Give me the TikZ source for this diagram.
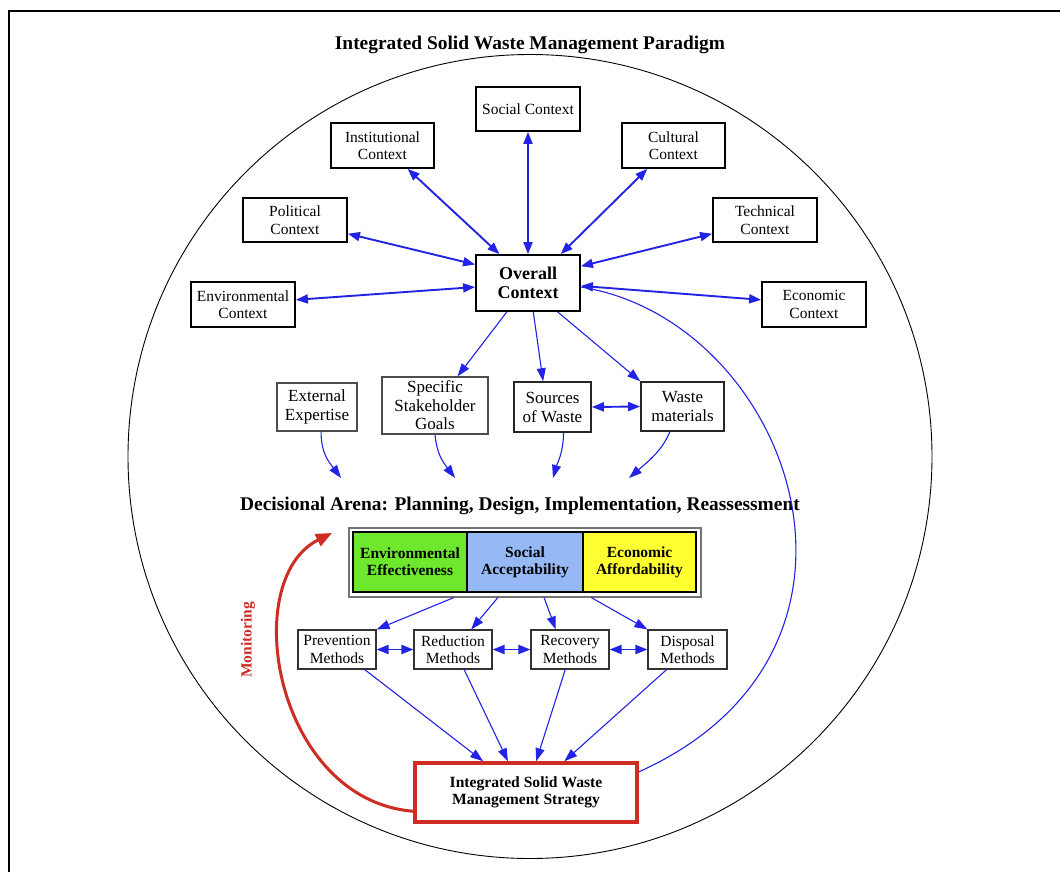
\documentclass[tikz,border=0pt]{standalone}
\usepackage{fontspec}
\setmainfont{Liberation Serif}
\usetikzlibrary{arrows.meta,calc}
\definecolor{arrowblue}{RGB}{35,35,230}
\definecolor{critgreen}{RGB}{110,232,45}
\definecolor{critblue}{RGB}{150,185,245}
\definecolor{crityellow}{RGB}{255,255,50}
\definecolor{monred}{RGB}{205,45,35}
\newcommand{\fsz}[2]{\fontsize{#1}{#2}\selectfont}
\begin{document}
\begin{tikzpicture}[x=1pt,y=-1pt,
  ctxbox/.style={draw, line width=1.8pt, align=center, inner sep=0pt, font=\fsz{15.5}{17.5}},
  midbox/.style={draw=black!70, line width=1.3pt, align=center, inner sep=0pt, font=\fsz{17}{19}},
  methbox/.style={draw=black!80, line width=1.1pt, align=center, inner sep=0pt, font=\fsz{15.5}{17.3}},
  critcell/.style={draw, line width=1.2pt, align=center, inner sep=0pt, minimum height=60pt, font=\bfseries\fsz{15.5}{16.7}},
  biarrow/.style={draw=arrowblue, line width=1.9pt, {Triangle[length=12pt,width=9pt]}-{Triangle[length=12pt,width=9pt]}},
  thinarrow/.style={draw=arrowblue, line width=1.1pt, -{Triangle[length=13pt,width=9pt]}},
  thinline/.style={draw=arrowblue, line width=1.1pt},
  monarrow/.style={draw=monred, line width=3pt, -{Triangle[length=16pt,width=13pt]}},
  heading/.style={font=\bfseries\fsz{19.4}{22}}
]
\useasboundingbox (0,0) rectangle (1060,872);
\fill[white] (0,0) rectangle (1060,872);
% frame
\draw[line width=1.6pt] (9,872) -- (9,11) -- (1060,11);
% big circle
\draw[line width=0.9pt] (530,456.5) circle[radius=402pt];

\node[heading] (title) at (530,45) {Integrated Solid Waste Management Paradigm};

% context boxes
\node[ctxbox, minimum width=104pt, minimum height=44pt] (social) at (528,109) {Social Context};
\node[ctxbox, minimum width=103pt, minimum height=45pt] (inst) at (382.5,145.5) {Institutional\\Context};
\node[ctxbox, minimum width=103pt, minimum height=45pt] (cult) at (673.5,145.5) {Cultural\\Context};
\node[ctxbox, minimum width=104pt, minimum height=44pt] (polit) at (295,220) {Political\\Context};
\node[ctxbox, minimum width=104pt, minimum height=44pt] (tech) at (765,220) {Technical\\Context};
\node[ctxbox, minimum width=104pt, minimum height=45pt] (env) at (243,304.5) {Environmental\\Context};
\node[ctxbox, minimum width=104pt, minimum height=45pt] (econ) at (814,304.5) {Economic\\Context};
\node[ctxbox, minimum width=104pt, minimum height=56pt, font=\bfseries\fsz{18}{19.5}] (overall) at (528,283) {Overall\\Context};

% context arrows
\draw[biarrow] (social.south) -- (overall.north);
\draw[biarrow] ($(inst.south west)!.74!(inst.south east)$) -- ($(overall.north west)!.23!(overall.north east)$);
\draw[biarrow] ($(cult.south west)!.25!(cult.south east)$) -- ($(overall.north west)!.81!(overall.north east)$);
\draw[biarrow] ($(polit.north east)!.8!(polit.south east)$) -- ($(overall.north west)!.18!(overall.south west)$);
\draw[biarrow] ($(tech.north west)!.8!(tech.south west)$) -- ($(overall.north east)!.21!(overall.south east)$);
\draw[biarrow] ($(env.north east)!.4!(env.south east)$) -- ($(overall.north west)!.57!(overall.south west)$);
\draw[biarrow] ($(econ.north west)!.4!(econ.south west)$) -- ($(overall.north east)!.55!(overall.south east)$);

% middle boxes
\node[midbox, minimum width=80pt, minimum height=48pt] (ext) at (317,407) {External\\Expertise};
\node[midbox, minimum width=106pt, minimum height=57pt, font=\fsz{17}{18.5}] (stake) at (435,405.5) {Specific\\Stakeholder\\Goals};
\node[midbox, draw=black!85, line width=1.6pt, minimum width=77pt, minimum height=50pt] (sources) at (552.5,407) {Sources\\of Waste};
\node[midbox, draw=black!85, line width=1.6pt, minimum width=83pt, minimum height=49pt] (wastem) at (682.5,406.5) {Waste\\materials};

\draw[thinarrow] ($(overall.south west)!.3!(overall.south east)$) -- ($(stake.north west)!.71!(stake.north east)$);
\draw[thinarrow] ($(overall.south west)!.55!(overall.south east)$) -- ($(sources.north west)!.38!(sources.north east)$);
\draw[thinarrow] ($(overall.south west)!.78!(overall.south east)$) -- (wastem.north west);
\draw[biarrow] (sources.east) -- (wastem.west);

% decisional arena
\node[heading] (arena) at (520,506) {Decisional Arena: Planning, Design, Implementation, Reassessment};
\coordinate (a1) at (341,478);
\coordinate (a2) at (455,478);
\coordinate (a3) at (553,478);
\coordinate (a4) at (629,478);
\draw[thinarrow] ($(ext.south west)!.55!(ext.south east)$) .. controls +(0,22) and +(-12,-16) .. (a1);
\draw[thinarrow] ($(stake.south west)!.5!(stake.south east)$) .. controls +(2,20) and +(-12,-16) .. (a2);
\draw[thinarrow] ($(sources.south west)!.64!(sources.south east)$) .. controls +(0,20) and +(4,-14) .. (a3);
\draw[thinarrow] ($(wastem.south west)!.35!(wastem.south east)$) .. controls +(-8,20) and +(16,-14) .. (a4);

% criteria box
\node[draw=black!55, line width=1.3pt, minimum width=352pt, minimum height=69pt, inner sep=0pt] (crit) at (525,562.5) {};
\node[critcell, fill=critgreen, minimum width=114pt] (ee) at (410,562) {Environmental\\Effectiveness};
\node[critcell, fill=critblue, minimum width=116pt] (sa) at (525,562) {Social\\Acceptability};
\node[critcell, fill=crityellow, minimum width=113pt] (ea) at (639.5,562) {Economic\\Affordability};

% methods
\node[methbox, minimum width=78pt, minimum height=39pt] (prev) at (337,649.5) {Prevention\\Methods};
\node[methbox, minimum width=78pt, minimum height=39pt] (redu) at (453,649.5) {Reduction\\Methods};
\node[methbox, minimum width=78pt, minimum height=39pt] (reco) at (570,649.5) {Recovery\\Methods};
\node[methbox, minimum width=79pt, minimum height=39pt] (disp) at (687.5,649.5) {Disposal\\Methods};

\draw[thinarrow] ($(crit.south west)!.298!(crit.south east)$) -- (prev.north east);
\draw[thinarrow] ($(crit.south west)!.423!(crit.south east)$) -- ($(redu.north west)!.73!(redu.north east)$);
\draw[thinarrow] ($(crit.south west)!.554!(crit.south east)$) -- ($(reco.north west)!.32!(reco.north east)$);
\draw[thinarrow] ($(crit.south west)!.688!(crit.south east)$) -- (disp.north west);

\draw[biarrow] (prev.east) -- (redu.west);
\draw[biarrow] (redu.east) -- (reco.west);
\draw[biarrow] (reco.east) -- (disp.west);

% strategy
\node[draw=monred, line width=3.5pt, minimum width=222pt, minimum height=59pt, align=center, inner sep=0pt, font=\bfseries\fsz{15.6}{17.3}] (strat) at (526,792.5) {Integrated Solid Waste\\Management Strategy};

\draw[thinarrow] ($(prev.south west)!.85!(prev.south east)$) -- ($(strat.north west)!.31!(strat.north east)$);
\draw[thinarrow] ($(redu.south west)!.64!(redu.south east)$) -- ($(strat.north west)!.42!(strat.north east)$);
\draw[thinarrow] ($(reco.south west)!.44!(reco.south east)$) -- ($(strat.north west)!.545!(strat.north east)$);
\draw[thinarrow] ($(disp.south west)!.24!(disp.south east)$) -- ($(strat.north west)!.67!(strat.north east)$);

% feedback curve
\draw[thinline] ($(overall.north east)!.57!(overall.south east)$) .. controls (790,320) and (910,650) .. ($(strat.north east)!.17!(strat.south east)$);

% monitoring
\coordinate (a0) at (332,533);
\draw[monarrow] ($(strat.north west)!.8!(strat.south west)$) .. controls (275,800) and (238,580) .. (a0);
\node[rotate=90, text=monred, font=\bfseries\fsz{15.5}{17}] (mon) at (248,640) {Monitoring};
\end{tikzpicture}
\end{document}
